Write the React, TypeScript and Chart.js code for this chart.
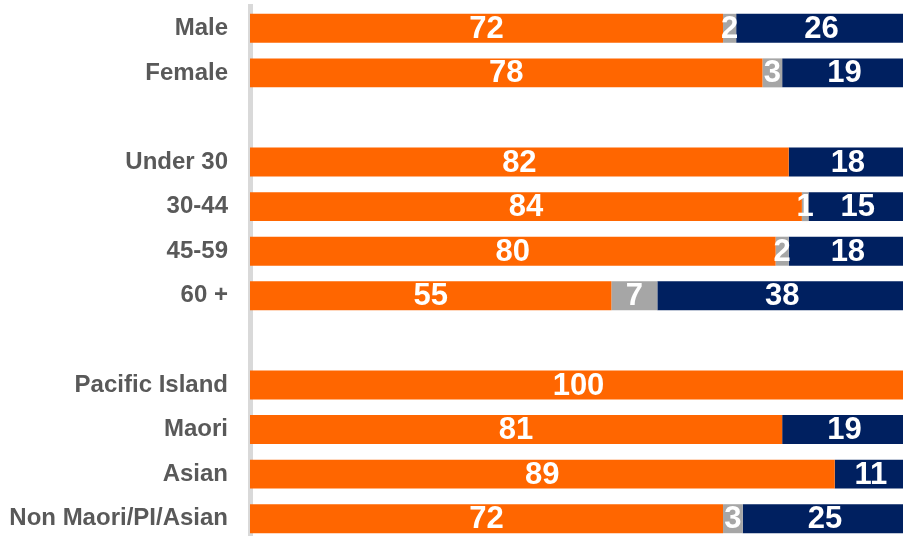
import React, { useEffect, useRef } from "react";
import { Chart, registerables } from "chart.js";

Chart.register(...registerables);

const categories = [
  "Male",
  "Female",
  "",
  "Under 30",
  "30-44",
  "45-59",
  "60 +",
  "",
  "Pacific Island",
  "Maori",
  "Asian",
  "Non Maori/PI/Asian",
];

const seriesA = [72, 78, null, 82, 84, 80, 55, null, 100, 81, 89, 72];
const seriesB = [2, 3, null, 0, 1, 2, 7, null, 0, 0, 0, 3];
const seriesC = [26, 19, null, 18, 15, 18, 38, null, 0, 19, 11, 25];

const FONT = '"Liberation Sans", Arial, sans-serif';

const valueLabels = {
  id: "valueLabels",
  afterDatasetsDraw(chart: any) {
    const ctx = chart.ctx;
    ctx.save();
    ctx.font = `bold 31px ${FONT}`;
    ctx.fillStyle = "#FFFFFF";
    ctx.textAlign = "center";
    ctx.textBaseline = "middle";
    chart.data.datasets.forEach((ds: any, di: number) => {
      const meta = chart.getDatasetMeta(di);
      meta.data.forEach((el: any, i: number) => {
        const v = ds.data[i];
        if (v === null || v === undefined || v <= 0) return;
        const { x, base, y } = el.getProps(["x", "base", "y"], true);
        ctx.fillText(String(v), (x + base) / 2, y + 1);
      });
    });
    ctx.restore();
  },
};

export default function App() {
  const ref = useRef<HTMLCanvasElement>(null);

  useEffect(() => {
    if (!ref.current) return;
    const chart = new Chart(ref.current, {
      type: "bar",
      data: {
        labels: categories,
        datasets: [
          { label: "A", data: seriesA, backgroundColor: "#FF6600", borderWidth: 0 },
          { label: "B", data: seriesB, backgroundColor: "#A6A6A6", borderWidth: 0 },
          { label: "C", data: seriesC, backgroundColor: "#002060", borderWidth: 0 },
        ],
      },
      options: {
        indexAxis: "y",
        responsive: false,
        animation: false,
        events: [],
        layout: { padding: { top: 6, left: 0, right: 0, bottom: 0 } },
        datasets: {
          bar: { barPercentage: 0.65, categoryPercentage: 1 },
        },
        plugins: {
          legend: { display: false },
          tooltip: { enabled: false },
          title: { display: false },
        },
        scales: {
          x: {
            display: false,
            stacked: true,
            min: 0,
            max: 100,
            grid: { display: false },
          },
          y: {
            stacked: true,
            afterFit: (scale: any) => {
              scale.width = 250;
              scale.paddingTop = 0;
              scale.paddingBottom = 0;
            },
            grid: { display: false, drawTicks: false },
            border: { display: true, color: "#D9D9D9", width: 5 },
            ticks: {
              padding: 22,
              color: "#595959",
              font: { family: FONT, size: 24, weight: "bold" },
            },
          },
        },
      },
      plugins: [valueLabels],
    });
    return () => chart.destroy();
  }, []);

  return (
    <div
      style={{
        position: "fixed",
        left: 0,
        top: 0,
        width: 903,
        height: 536,
        overflow: "hidden",
        background: "#FFFFFF",
      }}
    >
      <canvas ref={ref} width={907} height={541} style={{ display: "block" }} />
    </div>
  );
}
